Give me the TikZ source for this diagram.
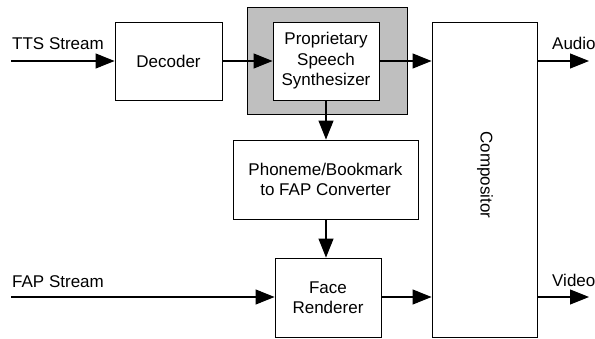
\documentclass[tikz,border=0pt]{standalone}
\usepackage{fontspec}
\setmainfont{Liberation Sans}
\usetikzlibrary{arrows.meta}
\begin{document}
\begin{tikzpicture}[x=1pt,y=-1pt,
  blk/.style={draw=black,line width=0.9pt,fill=white,inner sep=0pt,align=center},
  flow/.style={line width=1.1pt,-{Triangle[length=19pt,width=15pt]}},
  lbl/.style={anchor=base west,inner sep=0pt},
  every node/.append style={font=\fontsize{17}{20.5}\selectfont}]
\useasboundingbox (0,0) rectangle (595,339);
% shaded frame around the synthesizer
\node[draw=black,line width=0.9pt,fill=black!25,minimum width=160pt,minimum height=107pt,inner sep=0pt] (frame) at (327,60.5) {};
% blocks
\node[blk,minimum width=107pt,minimum height=78pt] (dec) at (168.5,61) {Decoder};
\node[blk,minimum width=106pt,minimum height=78pt] (syn) at (326,61) {Proprietary\\Speech\\Synthesizer};
\node[blk,minimum width=185pt,minimum height=79pt] (pho) at (325.5,179.5) {Phoneme/Bookmark\\to FAP Converter};
\node[blk,minimum width=106pt,minimum height=79pt] (face) at (328,297.5) {Face\\Renderer};
\node[blk,minimum width=105pt,minimum height=315pt] (comp) at (484.5,179.5) {};
\node[rotate=-90,inner sep=0pt] (comptext) at (485,175) {Compositor};
% free ends
\coordinate (ttsin) at (11,61);
\coordinate (fapin) at (11,297);
\coordinate (audout) at (589,61);
\coordinate (vidout) at (589,297);
% labels
\node[lbl] (ttsl) at (12,50) {TTS Stream};
\node[lbl] (fapl) at (12,288) {FAP Stream};
\node[lbl] (audl) at (552,50) {Audio};
\node[lbl] (vidl) at (552,287) {Video};
% connectors
\draw[flow] (ttsin) -- (dec.west);
\draw[flow] (dec.east) -- (syn.west);
\draw[flow] (syn.east) -- (comp.west |- syn.east);
\draw[flow] (syn.south) -- (pho.north -| syn.south);
\draw[flow] (pho.south -| syn.south) -- (face.north -| syn.south);
\draw[flow] (fapin) -- (face.west |- fapin);
\draw[flow] (face.east |- fapin) -- (comp.west |- fapin);
\draw[flow] (comp.east |- audout) -- (audout);
\draw[flow] (comp.east |- vidout) -- (vidout);
\end{tikzpicture}
\end{document}
